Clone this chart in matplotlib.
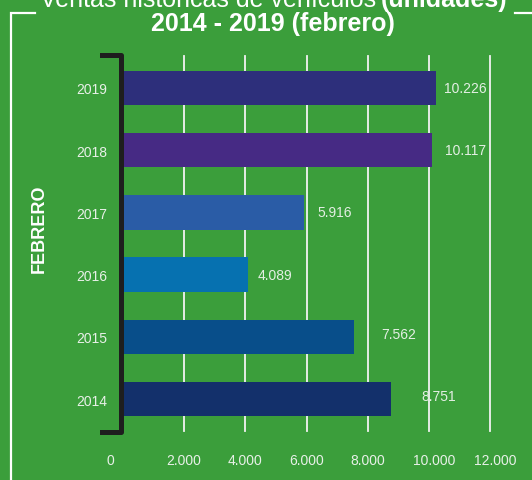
import matplotlib
matplotlib.use("Agg")
import matplotlib.pyplot as plt
from matplotlib.lines import Line2D
import matplotlib.transforms as mtransforms

years = ["2014", "2015", "2016", "2017", "2018", "2019"]
values = [8751, 7562, 4089, 5916, 10117, 10226]
value_labels = ["8.751", "7.562", "4.089", "5.916", "10.117", "10.226"]
bar_colors = ["#13306b", "#084e8a", "#0671b0", "#2a5ca6", "#462a84", "#2d2f7b"]
xticks = [0, 2000, 4000, 6000, 8000, 10000, 12000]
xtick_labels = ["0", "2.000", "4.000", "6.000", "8.000", "10.000", "12.000"]
title_regular = "Ventas históricas de vehículos"
title_bold = "(unidades)"
subtitle = "2014 - 2019 (febrero)"
side_label = "FEBRERO"

BG = "#3b9e3b"
W, H = 532, 481
fig = plt.figure(figsize=(W / 100, H / 100), dpi=100, facecolor=BG)
plt.rcParams["font.family"] = ["Liberation Sans", "DejaVu Sans"]

def fx(px):
    return px / W

def fy(py):
    return 1 - py / H

ax = fig.add_axes([fx(123), fy(432), fx(490) - fx(123), fy(57) - fy(432)])
ax.set_facecolor(BG)
ax.set_xlim(0, 12000)
ax.set_ylim(-0.514, 5.514)

for x in xticks[1:]:
    ax.axvline(x, color="#f2f2f2", lw=1.3, zorder=1, clip_on=False)

pos = list(range(len(years)))
ax.barh(pos, values, height=0.555, color=bar_colors, zorder=2)

# value labels
lab_dx = [31, 27, 10, 14, 13, 8]
lab_dy = [3, 3, 0, 0, 0, 0]
for i, (v, t) in enumerate(zip(values, value_labels)):
    ax.annotate(t, (v, i), xytext=(lab_dx[i], lab_dy[i]), textcoords="offset pixels",
                ha="left", va="center", fontsize=10, color="#e4efe4")

for s in ax.spines.values():
    s.set_visible(False)
ax.set_yticks(pos)
ax.set_yticklabels(years)
ax.set_xticks(xticks)
ax.set_xticklabels(xtick_labels)
ax.tick_params(axis="y", length=0, pad=11.5, labelsize=10, labelcolor="#e8f0e8")
ax.tick_params(axis="x", length=0, pad=16, labelsize=10, labelcolor="#e8f0e8")

shifts = [-13, 0, 0, 0, 0, 5, 5]
for lab, s in zip(ax.get_xticklabels(), shifts):
    lab.set_transform(lab.get_transform() + mtransforms.ScaledTranslation(s / 100, 0, fig.dpi_scale_trans))

# black bracket
fig.add_artist(Line2D([fx(102), fx(120.5), fx(120.5), fx(102)],
                      [fy(56), fy(56), fy(433), fy(433)],
                      color="#1e1e1e", lw=3.6, solid_joinstyle="round", zorder=5))

# white frame
fig.add_artist(Line2D([fx(35), fx(11), fx(11)], [fy(13.5), fy(13.5), fy(481)],
                      color="white", lw=1.6, solid_joinstyle="miter"))
fig.add_artist(Line2D([fx(515), fx(532)], [fy(13.5), fy(13.5)], color="white", lw=1.6))

# titles
fig.text(fx(376), fy(7), title_regular, ha="right", va="baseline", fontsize=18, color="white")
fig.text(fx(381), fy(7), title_bold, ha="left", va="baseline", fontsize=18,
         fontweight="bold", color="white")
fig.text(fx(272.5), fy(31), subtitle, ha="center", va="baseline", fontsize=18,
         fontweight="bold", color="white")

fig.text(fx(39), fy(229), side_label, rotation=90, ha="center", va="center", fontsize=13,
         fontweight="bold", color="white")

fig.savefig("out.png", dpi=100, facecolor=BG)
